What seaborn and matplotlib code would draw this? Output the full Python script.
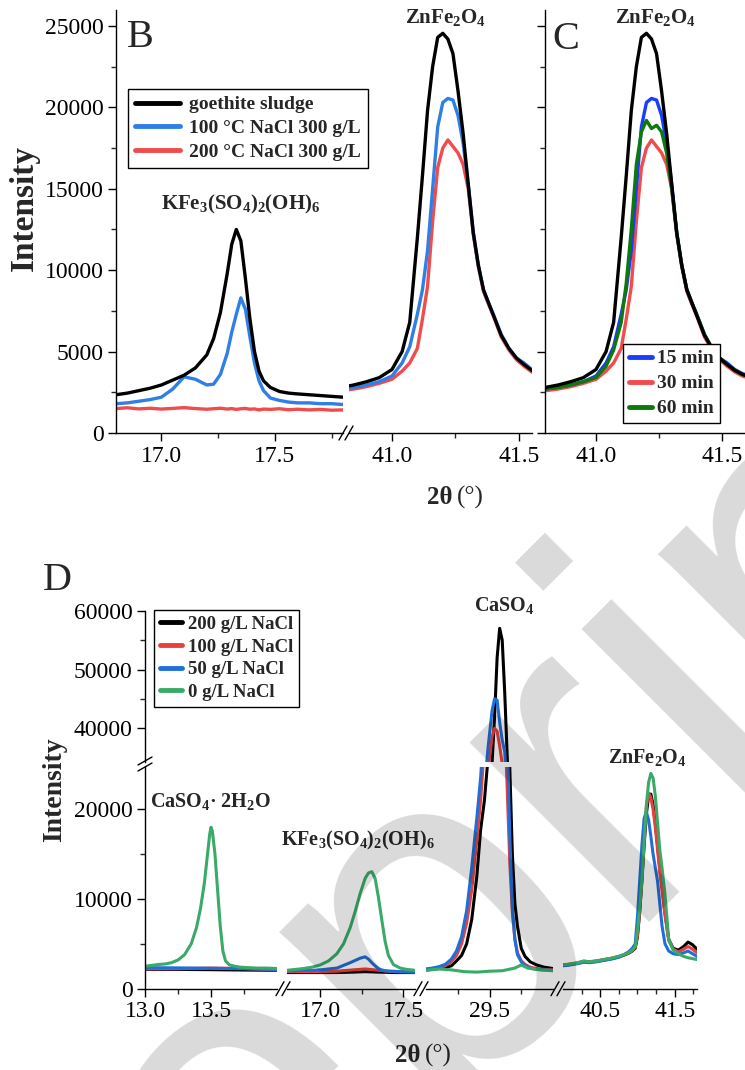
import seaborn as sns
import matplotlib.pyplot as plt
from matplotlib.lines import Line2D
from matplotlib.ticker import FixedLocator, FormatStrFormatter

# ---------------- data ----------------
# panel B, left part (jarosite peak)
b1_x = [16.80, 16.85, 16.90, 16.95, 17.00, 17.05, 17.10, 17.15, 17.20, 17.23, 17.26, 17.29, 17.31, 17.33,
        17.35, 17.37, 17.39, 17.41, 17.43, 17.45, 17.48, 17.52, 17.56, 17.60, 17.65, 17.70, 17.75, 17.80]
b1_sludge = [2350, 2450, 2600, 2750, 2950, 3250, 3550, 4000, 4800, 5800, 7400, 9800, 11600, 12500,
             11800, 9500, 7000, 5000, 3800, 3200, 2800, 2550, 2450, 2400, 2350, 2300, 2250, 2200]
b1_nacl100 = [1800, 1850, 1950, 2050, 2200, 2700, 3450, 3300, 2950, 3000, 3600, 4900, 6200, 7300,
              8300, 7600, 5900, 4300, 3200, 2600, 2150, 2000, 1900, 1850, 1850, 1800, 1800, 1750]
b1_nacl200 = [1500, 1550, 1480, 1520, 1470, 1510, 1560, 1500, 1460, 1490, 1520, 1470, 1500, 1450,
              1490, 1510, 1460, 1480, 1420, 1470, 1450, 1490, 1430, 1460, 1420, 1450, 1400, 1420]

# ZnFe2O4 peak (panel B right part and panel C)
zn_x = [40.80, 40.85, 40.90, 40.95, 41.00, 41.04, 41.07, 41.10, 41.12, 41.14, 41.16, 41.18, 41.20, 41.22,
        41.24, 41.26, 41.28, 41.30, 41.32, 41.34, 41.36, 41.38, 41.40, 41.43, 41.46, 41.49, 41.52, 41.55,
        41.58, 41.62, 41.66]
zn_sludge = [2800, 2950, 3150, 3400, 3900, 5000, 6800, 12000, 15800, 19800, 22500, 24300, 24550, 24200,
             23300, 21000, 18400, 15300, 12300, 10300, 8800, 8000, 7200, 6000, 5200, 4600, 4200, 3850,
             3600, 3400, 3200]
zn_15min = [2700, 2800, 2950, 3150, 3500, 4300, 5300, 7300, 8800, 11200, 15000, 18800, 20300, 20550,
            20450, 19500, 17800, 15300, 12300, 10300, 8800, 8000, 7250, 6050, 5200, 4600, 4300, 3900,
            3650, 3450, 3250]
zn_30min = [2600, 2700, 2850, 3050, 3300, 3800, 4300, 5200, 7000, 9000, 13000, 16300, 17500, 18000,
            17600, 17200, 16500, 15000, 12200, 10200, 8700, 7900, 7150, 5900, 5100, 4500, 4100, 3750,
            3500, 3300, 3100]
zn_60min = [2700, 2800, 2950, 3150, 3400, 4100, 5100, 6800, 9200, 12500, 16500, 18500, 19200, 18700,
            18900, 18500, 17200, 15000, 12300, 10300, 8800, 8000, 7250, 6050, 5200, 4600, 4200, 3850,
            3600, 3400, 3200]

# panel D, segment 1 (gypsum)
d1_x = [13.00, 13.05, 13.10, 13.15, 13.20, 13.25, 13.30, 13.35, 13.39, 13.42, 13.45, 13.47, 13.49, 13.50,
        13.51, 13.53, 13.55, 13.57, 13.59, 13.61, 13.64, 13.68, 13.72, 13.78, 13.85, 13.92, 14.00]
d1_g0 = [2500, 2600, 2700, 2750, 2900, 3200, 3800, 5000, 6800, 8900, 11800, 14500, 17200, 18000,
         17600, 15000, 11000, 7000, 4200, 3100, 2650, 2500, 2400, 2350, 2300, 2300, 2250]
d1_flat_x = [13.00, 13.25, 13.50, 13.75, 14.00]
d1_g200 = [2150, 2150, 2120, 2080, 2050]
d1_g100 = [2200, 2230, 2300, 2250, 2100]
d1_g50 = [2350, 2320, 2280, 2230, 2150]

# panel D, segment 2 (jarosite)
d2_x = [16.80, 16.85, 16.90, 16.95, 17.00, 17.05, 17.10, 17.14, 17.18, 17.21, 17.24, 17.27, 17.29, 17.31,
        17.33, 17.35, 17.37, 17.39, 17.41, 17.44, 17.48, 17.52, 17.57]
d2_g0 = [2050, 2150, 2250, 2400, 2650, 3100, 3900, 5000, 6800, 8600, 10600, 12300, 12900, 13050,
         12300, 10200, 7700, 5300, 3700, 2700, 2300, 2150, 2050]
d2_g50 = [2000, 2000, 2050, 2050, 2100, 2200, 2300, 2600, 2900, 3150, 3400, 3550, 3300, 2900,
          2550, 2250, 2100, 2000, 1950, 1950, 1900, 1900, 1900]
d2_flat_x = [16.80, 17.00, 17.10, 17.20, 17.27, 17.35, 17.45, 17.57]
d2_g200 = [1800, 1800, 1800, 1850, 1900, 1850, 1800, 1800]
d2_g100 = [1900, 1900, 1950, 2100, 2200, 2050, 1900, 1850]

# panel D, segment 3 (anhydrite)
d3_x = [29.00, 29.05, 29.10, 29.15, 29.20, 29.24, 29.28, 29.32, 29.36, 29.40, 29.43, 29.46, 29.49, 29.52,
        29.54, 29.56, 29.58, 29.60, 29.62, 29.64, 29.66, 29.68, 29.70, 29.72, 29.75, 29.78, 29.82, 29.87,
        29.93, 30.00]
d3_g200 = [2080, 2150, 2250, 2350, 2550, 3100, 3700, 5000, 7700, 12500, 17700, 21000, 26000, 34000,
           42000, 52000, 57000, 55000, 46000, 35000, 24500, 15000, 9500, 7000, 4500, 3600, 3000, 2650,
           2400, 2250]
d3_g100 = [2150, 2250, 2350, 2550, 3000, 3700, 5000, 7300, 11000, 16500, 21000, 27000, 33000, 38500,
           40000, 39500, 37000, 34000, 30000, 22000, 14000, 8500, 5500, 4000, 3100, 2700, 2400, 2250,
           2150, 2100]
d3_g50 = [2200, 2300, 2450, 2700, 3300, 4200, 5800, 8700, 13500, 19000, 23500, 30000, 37000, 43000,
          45000, 44800, 41000, 38000, 36000, 28000, 17000, 9000, 5500, 3800, 3000, 2600, 2300, 2150,
          2100, 2050]
d3_flat_x = [29.0, 29.1, 29.2, 29.3, 29.4, 29.5, 29.6, 29.7, 29.75, 29.8, 29.9, 30.0]
d3_g0 = [2050, 2200, 2100, 1900, 1850, 1950, 2000, 2300, 2650, 2300, 2100, 2000]

# panel D, segment 4 (franklinite)
d4_x = [40.00, 40.10, 40.20, 40.28, 40.35, 40.45, 40.55, 40.65, 40.75, 40.82, 40.88, 40.93, 40.97, 41.00,
        41.03, 41.06, 41.09, 41.12, 41.15, 41.18, 41.21, 41.24, 41.27, 41.30, 41.33, 41.37, 41.42, 41.48,
        41.55, 41.62, 41.68, 41.74, 41.80]
d4_g200 = [2600, 2700, 2850, 3000, 2950, 3050, 3200, 3350, 3550, 3750, 3950, 4200, 4500, 5800,
           8500, 12000, 16000, 19500, 21500, 21700, 20500, 18500, 16000, 13500, 11500, 8500, 5500, 4500,
           4300, 4700, 5200, 4900, 4400]
d4_g100 = [2650, 2750, 2900, 3050, 3000, 3100, 3250, 3400, 3600, 3800, 4000, 4250, 4600, 6000,
           8800, 12500, 16800, 20300, 21800, 21300, 20000, 18000, 15500, 13000, 11000, 8200, 5400, 4400,
           4100, 4400, 4700, 4400, 4000]
d4_g50 = [2550, 2650, 2800, 2950, 2900, 3000, 3150, 3300, 3500, 3800, 4100, 4500, 5000, 8000,
          12000, 16000, 19000, 19700, 18800, 17000, 15000, 13500, 12000, 9500, 7000, 5000, 4200, 3900,
          3800, 4000, 4200, 3900, 3600]
d4_g0 = [2650, 2750, 2900, 3100, 3000, 3100, 3250, 3400, 3600, 3800, 4000, 4300, 4700, 6500,
         9000, 12100, 16500, 20500, 23000, 24000, 23500, 21500, 18500, 15500, 13500, 10500, 5500, 4300,
         3900, 3600, 3450, 3350, 3250]

# ---------------- styling ----------------
sns.set_theme(style="ticks")
plt.rcParams['font.family'] = ['Liberation Serif', 'DejaVu Serif']
plt.rcParams['mathtext.fontset'] = 'custom'
plt.rcParams['mathtext.rm'] = 'Liberation Serif'
plt.rcParams['mathtext.it'] = 'Liberation Serif:italic'
plt.rcParams['mathtext.bf'] = 'Liberation Serif:bold'

W, H = 745, 1070
fig = plt.figure(figsize=(W / 100, H / 100), dpi=100)


def ax_px(l, t, r, b):
    return fig.add_axes([l / W, 1 - b / H, (r - l) / W, (b - t) / H])


def ftxt(x, y, s, **kw):
    return fig.text(x / W, 1 - y / H, s, **kw)


def trace(ax, x, y, color, lw=2.4):
    sns.lineplot(x=x, y=y, ax=ax, color=color, linewidth=lw, sort=False, estimator=None, legend=False)
    ax.set_xlabel("")
    ax.set_ylabel("")


def style(ax, left=True, bottom=True, ylabels=True, labelsize=17):
    for s in ['top', 'right']:
        ax.spines[s].set_visible(False)
    ax.spines['left'].set_visible(left)
    ax.spines['bottom'].set_visible(bottom)
    for s in ax.spines.values():
        s.set_linewidth(1.0)
        s.set_color('black')
    ax.tick_params(which='major', direction='out', length=6, width=1, labelsize=labelsize, pad=3,
                   colors='black', left=left, bottom=bottom, labelleft=left and ylabels, labelbottom=bottom)
    ax.tick_params(which='minor', direction='out', length=3.5, width=1, left=left, bottom=bottom)
    ax.set_facecolor('none')
    ax.xaxis.set_major_formatter(FormatStrFormatter('%.1f'))
    ax.yaxis.set_major_formatter(FormatStrFormatter('%d'))


def slash_pair(x, y, dx=4, dy=7, gap=6):
    for off in (-gap / 2, gap / 2):
        fig.add_artist(Line2D([(x + off - dx) / W, (x + off + dx) / W],
                              [1 - (y + dy) / H, 1 - (y - dy) / H], color='black', lw=1.0))


def box_legend(handles, labels, x, y, **kw):
    leg = fig.legend(handles, labels, loc='upper left', bbox_to_anchor=(x / W, 1 - y / H),
                     bbox_transform=fig.transFigure, prop={'weight': 'bold', 'size': kw.pop('size', 14)},
                     frameon=True, fancybox=False, edgecolor='black', framealpha=1, borderaxespad=0, **kw)
    leg.get_frame().set_linewidth(1.0)
    return leg


blk = '#000000'
b_blue, b_red = '#2f7fe6', '#f24b4b'
c_blue, c_red, c_green = '#1a3cff', '#f24b4b', '#0b7a0b'
d_red, d_blue, d_green = '#ea3f3f', '#1f6fd8', '#3aaa68'

# ---------------- panel B ----------------
axB1 = ax_px(116, 9.7, 343, 433)
trace(axB1, b1_x, b1_nacl200, b_red)
trace(axB1, b1_x, b1_nacl100, b_blue)
trace(axB1, b1_x, b1_sludge, blk)
axB1.set_xlim(16.8, 17.8)
axB1.set_ylim(0, 26000)
style(axB1)
axB1.xaxis.set_major_locator(FixedLocator([17.0, 17.5]))
axB1.xaxis.set_minor_locator(FixedLocator([17.25, 17.75]))
axB1.yaxis.set_major_locator(FixedLocator([0, 5000, 10000, 15000, 20000, 25000]))
axB1.yaxis.set_minor_locator(FixedLocator([2500, 7500, 12500, 17500, 22500]))

axB2 = ax_px(349, 9.7, 532, 433)
trace(axB2, zn_x, zn_30min, b_red)
trace(axB2, zn_x, zn_15min, b_blue)
trace(axB2, zn_x, zn_sludge, blk)
axB2.set_xlim(40.831, 41.551)
axB2.set_ylim(0, 26000)
style(axB2, left=False)
axB2.set_yticks([])
axB2.xaxis.set_major_locator(FixedLocator([41.0, 41.5]))
axB2.xaxis.set_minor_locator(FixedLocator([41.25]))

box_legend([Line2D([], [], color=c, lw=3.5) for c in (blk, b_blue, b_red)],
           ['goethite sludge', '100 °C NaCl 300 g/L', '200 °C NaCl 300 g/L'], 128, 89,
           borderpad=0.35, labelspacing=0.32, handlelength=2.3, handletextpad=0.5)

# ---------------- panel C ----------------
axC = ax_px(545, 9.7, 760, 433)
trace(axC, zn_x, zn_30min, c_red)
trace(axC, zn_x, zn_15min, c_blue)
trace(axC, zn_x, zn_60min, c_green)
trace(axC, zn_x, zn_sludge, blk)
axC.set_xlim(40.798, 41.65)
axC.set_ylim(0, 26000)
style(axC, ylabels=False)
axC.xaxis.set_major_locator(FixedLocator([41.0, 41.5]))
axC.xaxis.set_minor_locator(FixedLocator([41.25]))
axC.yaxis.set_major_locator(FixedLocator([0, 5000, 10000, 15000, 20000, 25000]))
axC.yaxis.set_minor_locator(FixedLocator([2500, 7500, 12500, 17500, 22500]))

box_legend([Line2D([], [], color=c, lw=3.5) for c in (c_blue, c_red, c_green)],
           ['15 min', '30 min', '60 min'], 623, 344,
           borderpad=0.3, labelspacing=0.38, handlelength=1.2, handletextpad=0.25)

slash_pair(346, 433)

ftxt(127, 47, 'B', fontsize=29, va='baseline')
ftxt(552, 49, 'C', fontsize=29, va='baseline')
ftxt(24, 208, 'Intensity', fontsize=24, fontweight='bold', rotation=90, ha='center', va='center')
ftxt(452, 497, '2θ', fontsize=18, fontweight='bold', ha='right', va='center')
ftxt(457, 497, '(°)', fontsize=18, ha='left', va='center')
ftxt(241, 204, r'$\mathbf{KFe_3(SO_4)_2(OH)_6}$', fontsize=15, ha='center', va='center')
ftxt(446, 18, r'$\mathbf{ZnFe_2O_4}$', fontsize=15, ha='center', va='center')
ftxt(656, 18, r'$\mathbf{ZnFe_2O_4}$', fontsize=15, ha='center', va='center')

# ---------------- panel D ----------------
cols = [(145, 277, (13.0, 14.0)), (287, 415, (16.8, 17.57)), (426, 553, (29.0, 30.0)), (563, 697, (40.0, 41.8))]
low = []
for l, r, xl in cols:
    ax = ax_px(l, 766.7, r, 988.7)
    ax.set_xlim(*xl)
    ax.set_ylim(0, 24750)
    low.append(ax)

trace(low[0], d1_flat_x, d1_g200, blk, 2.2)
trace(low[0], d1_flat_x, d1_g100, d_red, 2.2)
trace(low[0], d1_flat_x, d1_g50, d_blue, 2.2)
trace(low[0], d1_x, d1_g0, d_green, 2.2)

trace(low[1], d2_flat_x, d2_g200, blk, 2.2)
trace(low[1], d2_flat_x, d2_g100, d_red, 2.2)
trace(low[1], d2_x, d2_g50, d_blue, 2.2)
trace(low[1], d2_x, d2_g0, d_green, 2.2)

up3 = ax_px(426, 610.7, 553, 761.7)
for ax in (low[2], up3):
    trace(ax, d3_x, d3_g200, blk, 2.2)
    trace(ax, d3_x, d3_g100, d_red, 2.2)
    trace(ax, d3_x, d3_g50, d_blue, 2.2)
    trace(ax, d3_flat_x, d3_g0, d_green, 2.2)
up3.set_xlim(29.0, 30.0)
up3.set_ylim(34320, 60000)
up3.axis('off')

trace(low[3], d4_x, d4_g200, blk, 2.2)
trace(low[3], d4_x, d4_g100, d_red, 2.2)
trace(low[3], d4_x, d4_g50, d_blue, 2.2)
trace(low[3], d4_x, d4_g0, d_green, 2.2)

for i, ax in enumerate(low):
    style(ax, left=(i == 0))
    if i > 0:
        ax.set_yticks([])
low[0].yaxis.set_major_locator(FixedLocator([0, 10000, 20000]))
low[0].yaxis.set_minor_locator(FixedLocator([5000, 15000]))
low[0].xaxis.set_major_locator(FixedLocator([13.0, 13.5]))
low[0].xaxis.set_minor_locator(FixedLocator([13.25, 13.75]))
low[1].xaxis.set_major_locator(FixedLocator([17.0, 17.5]))
low[1].xaxis.set_minor_locator(FixedLocator([17.25]))
low[2].xaxis.set_major_locator(FixedLocator([29.5]))
low[2].xaxis.set_minor_locator(FixedLocator([29.25, 29.75]))
low[3].xaxis.set_major_locator(FixedLocator([40.5, 41.5]))
low[3].xaxis.set_minor_locator(FixedLocator([40.25, 40.75, 41.0, 41.25, 41.75]))

up1 = ax_px(145, 610.7, 277, 761.7)
up1.set_ylim(34320, 60000)
style(up1, bottom=False)
up1.set_xticks([])
up1.yaxis.set_major_locator(FixedLocator([40000, 50000, 60000]))
up1.yaxis.set_minor_locator(FixedLocator([45000, 55000]))

box_legend([Line2D([], [], color=c, lw=3.5) for c in (blk, d_red, d_blue, d_green)],
           ['200 g/L NaCl', '100 g/L NaCl', '50 g/L NaCl', '0 g/L NaCl'], 154, 610, size=13.5,
           borderpad=0.3, labelspacing=0.3, handlelength=1.2, handletextpad=0.3)

slash_pair(283, 988.7)
slash_pair(421, 988.7)
slash_pair(558, 988.7)
for off in (-3, 3):
    fig.add_artist(Line2D([138 / W, 152 / W], [1 - (764 + off + 4) / H, 1 - (764 + off - 4) / H],
                          color='black', lw=1.0))

ftxt(43, 590, 'D', fontsize=29, va='baseline')
ftxt(55, 790, 'Intensity', fontsize=20, fontweight='bold', rotation=90, ha='center', va='center')
ftxt(420, 1055, '2θ', fontsize=18, fontweight='bold', ha='right', va='center')
ftxt(425, 1055, '(°)', fontsize=18, ha='left', va='center')
ftxt(210, 801, r'$\mathbf{CaSO_4}$' + '· ' + r'$\mathbf{2H_2O}$', fontsize=14.5, fontweight='bold',
     ha='center', va='center')
ftxt(358, 840, r'$\mathbf{KFe_3(SO_4)_2(OH)_6}$', fontsize=14.5, ha='center', va='center')
ftxt(504, 606, r'$\mathbf{CaSO_4}$', fontsize=14.5, ha='center', va='center')
ftxt(647, 758, r'$\mathbf{ZnFe_2O_4}$', fontsize=14.5, ha='center', va='center')

# watermark (cut off by the figure edge, as in the source)
ftxt(493, 1039, 'Preprint', fontsize=346, family='Liberation Sans', color='black', alpha=0.15,
     rotation=45, rotation_mode='anchor', ha='center', va='baseline', zorder=10)

fig.savefig('out.png', dpi=100)
